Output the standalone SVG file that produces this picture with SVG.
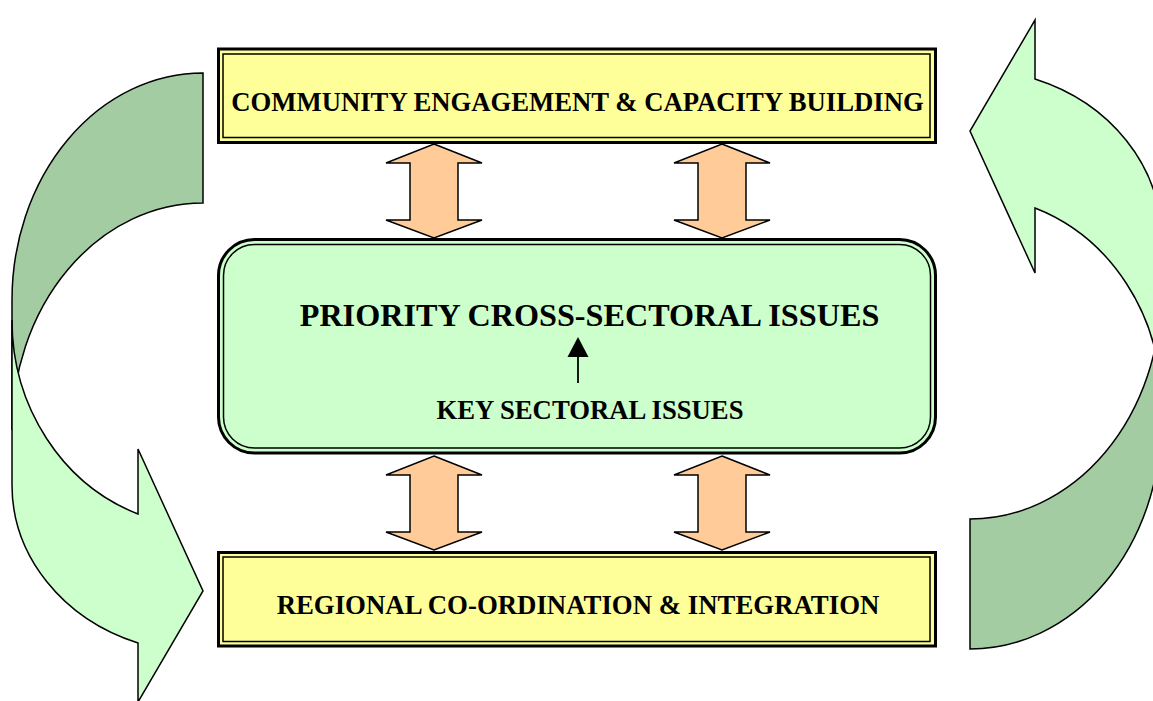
<svg xmlns="http://www.w3.org/2000/svg" width="1153" height="701" viewBox="0 0 1153 701">
<style>
.outer{fill:#FFFF99;stroke:#000;stroke-width:3}
.inner{fill:none;stroke:#000;stroke-width:1.5}
.gouter{fill:#CCFFCC;stroke:#000;stroke-width:3}
.t{font-family:"Liberation Serif","Times New Roman",serif;font-weight:bold;fill:#000;text-anchor:middle}
.dbl{fill:#FFCC99;stroke:#000;stroke-width:1.5;stroke-linejoin:miter}
.back{fill:#A3CCA3;stroke:#000;stroke-width:1.5}
.front{fill:#CCFFCC;stroke:#000;stroke-width:1.5;stroke-linejoin:miter}
</style>
<defs>
<g id="curved">
<path class="back" d="M203,73 A191,227 0 0 0 12,300 L12,430 A191,227 0 0 1 203,203 Z"/>
<path class="front" d="M12,320 L12,485 A191,168 0 0 0 138,643 L138,702 L203,591 L138,449 L138,514 A191,206 0 0 1 12,320 Z"/>
</g>
<path id="dblTop" d="M0,0 L48,19 L24,19 L24,76 L48,76 L0,94 L-48,76 L-24,76 L-24,19 L-48,19 Z"/>
</defs>
<g id="cycle-arrows">
<use href="#curved"/>
<use href="#curved" transform="rotate(180 586.5 361)"/>
</g>
<g id="community">
<rect class="outer" x="218.5" y="49" width="717" height="93.5"/>
<rect class="inner" x="223" y="54" width="707" height="83.5"/>
<text class="t" x="577.5" y="111" font-size="26.7">COMMUNITY ENGAGEMENT &amp; CAPACITY BUILDING</text>
</g>
<g id="priority">
<rect class="gouter" x="218.5" y="239.5" width="717" height="213.5" rx="36" ry="36"/>
<rect class="inner" x="223.5" y="244.5" width="707" height="203.5" rx="31" ry="31"/>
<text class="t" x="589.5" y="326" font-size="32.2">PRIORITY CROSS-SECTORAL ISSUES</text>
<text class="t" x="590" y="419" font-size="26.7">KEY SECTORAL ISSUES</text>
</g>
<g id="regional">
<rect class="outer" x="218.5" y="552.5" width="717" height="93.5"/>
<rect class="inner" x="223" y="557" width="707" height="84.5"/>
<text class="t" x="578" y="614" font-size="26.8">REGIONAL CO-ORDINATION &amp; INTEGRATION</text>
</g>
<g id="connectors">
<use href="#dblTop" transform="translate(434,144)" class="dbl"/>
<use href="#dblTop" transform="translate(722,144)" class="dbl"/>
<use href="#dblTop" transform="translate(434,456)" class="dbl"/>
<use href="#dblTop" transform="translate(722,456)" class="dbl"/>
<line x1="578" y1="383" x2="578" y2="355" stroke="#000" stroke-width="1.8"/>
<polygon points="578,337 567.5,357 588.5,357" fill="#000"/>
</g>
</svg>
